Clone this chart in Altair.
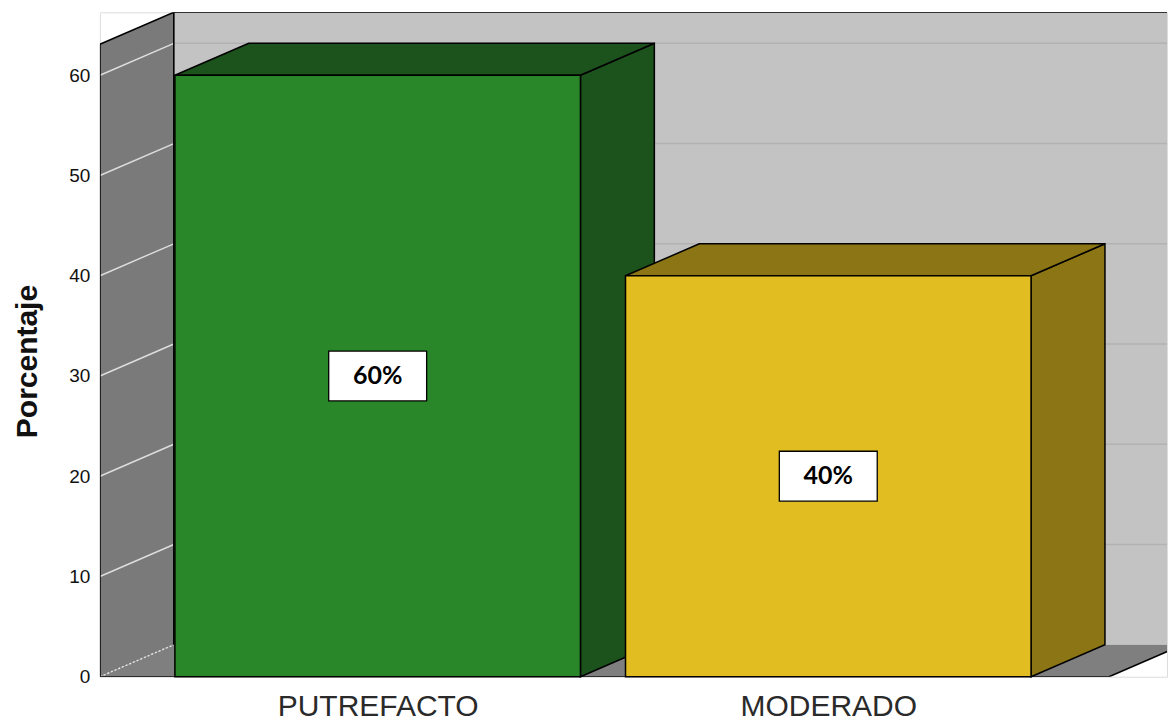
import json
import altair as alt
import pandas as pd

# ---------------- data ----------------
categories = ["PUTREFACTO", "MODERADO"]
percentages = [60, 40]
bar_labels = ["60%", "40%"]
y_ticks = [0, 10, 20, 30, 40, 50, 60]

# ---------------- styles ----------------
front_colors = ["#29872a", "#e1bd21"]
shade_colors = ["#1c521b", "#8c7514"]
BACK_WALL = "#c3c3c3"
SIDE_WALL = "#7a7a7a"
FLOOR = "#7f7f7f"

# 3D geometry (data units)
HALF = 0.45          # half bar width (category units)
DX = 0.164           # depth along x (category units)
DY = 3.19            # depth along y (percent units)
X_MIN, X_MAX = -0.6164, 1.7517
Y_MAX = 66.28
WALL_TOP = Y_MAX - DY
FLOOR_RIGHT = len(categories) - 1 + 0.623

xs = alt.Scale(domain=[X_MIN, X_MAX], nice=False, zero=False)
ys = alt.Scale(domain=[0, Y_MAX], nice=False, zero=False)

label_expr = json.dumps(categories) + "[datum.value]"
x_axis = alt.Axis(
    values=list(range(len(categories))), labelExpr=label_expr, ticks=False, domain=False,
    grid=False, title=None, labelFont="Liberation Sans Narrow, Arial Narrow, Liberation Sans",
    labelFontSize=30, labelColor="#2a2a2a", labelPadding=15, labelFlush=False,
    labelOverlap=False, labelLimit=0)
y_axis = alt.Axis(
    values=y_ticks, ticks=False, domain=False, grid=False, labelFont="Liberation Sans",
    labelFontSize=19, labelColor="#111111", labelPadding=10, title="Porcentaje",
    titleFont="Liberation Sans", titleFontSize=30, titleFontWeight="bold",
    titleColor="#111111", titlePadding=26, titleY=349)


def X(field="x"):
    return alt.X(f"{field}:Q", scale=xs, axis=x_axis)


def Y(field="y"):
    return alt.Y(f"{field}:Q", scale=ys, axis=y_axis)


back = alt.Chart(pd.DataFrame({"x": [X_MIN + DX], "x2": [X_MAX], "y": [DY], "y2": [Y_MAX]})).mark_rect(
    color=BACK_WALL).encode(x=X(), x2="x2:Q", y=Y(), y2="y2:Q")

floor = alt.Chart(pd.DataFrame({
    "y": [0, DY], "x": [X_MIN, X_MIN + DX], "x2": [FLOOR_RIGHT, FLOOR_RIGHT + DX]
})).mark_area(orient="horizontal", color=FLOOR, clip=True).encode(y=Y(), x=X(), x2="x2:Q")

left_wall = alt.Chart(pd.DataFrame({
    "x": [X_MIN, X_MIN + DX], "y": [0, DY], "y2": [WALL_TOP, Y_MAX]
})).mark_area(color=SIDE_WALL).encode(x=X(), y=Y(), y2="y2:Q")

grid_vals = y_ticks[1:]
back_grid = alt.Chart(pd.DataFrame({
    "x": [X_MIN + DX] * len(grid_vals), "x2": [X_MAX] * len(grid_vals),
    "y": [v + DY for v in grid_vals]
})).mark_rule(color="#b2b2b2", strokeWidth=1.6).encode(x=X(), x2="x2:Q", y=Y())

side_grid = alt.Chart(pd.DataFrame({
    "x": [X_MIN] * len(grid_vals), "x2": [X_MIN + DX] * len(grid_vals),
    "y": grid_vals, "y2": [v + DY for v in grid_vals]
})).mark_rule(color="#dedede", strokeWidth=1.4).encode(x=X(), x2="x2:Q", y=Y(), y2="y2:Q")

zero_grid = alt.Chart(pd.DataFrame({
    "x": [X_MIN], "x2": [X_MIN + DX], "y": [y_ticks[0]], "y2": [y_ticks[0] + DY]
})).mark_rule(color="#e6e6e6", strokeWidth=1.4, strokeDash=[2, 2]).encode(
    x=X(), x2="x2:Q", y=Y(), y2="y2:Q")

edges = alt.Chart(pd.DataFrame({
    "x":  [X_MIN, X_MIN, X_MIN + DX, X_MIN + DX, X_MIN, FLOOR_RIGHT],
    "y":  [0, WALL_TOP, DY, Y_MAX, 0, 0],
    "x2": [X_MIN, X_MIN + DX, X_MIN + DX, X_MAX, FLOOR_RIGHT, FLOOR_RIGHT + DX],
    "y2": [WALL_TOP, Y_MAX, Y_MAX, Y_MAX, 0, DY],
})).mark_rule(color="black", strokeWidth=1.6, clip=True).encode(
    x=X(), x2="x2:Q", y=Y(), y2="y2:Q")

layers = [back, floor, left_wall, back_grid, side_grid, zero_grid, edges]

for i, (cat, v) in enumerate(zip(categories, percentages)):
    c = i
    side = alt.Chart(pd.DataFrame({
        "x": [c + HALF, c + HALF + DX], "y": [0, DY], "y2": [v, v + DY]
    })).mark_area(color=shade_colors[i], stroke="black", strokeWidth=1.5).encode(
        x=X(), y=Y(), y2="y2:Q")
    top = alt.Chart(pd.DataFrame({
        "y": [v, v + DY], "x": [c - HALF, c - HALF + DX], "x2": [c + HALF, c + HALF + DX]
    })).mark_area(orient="horizontal", color=shade_colors[i], stroke="black",
                  strokeWidth=1.5).encode(y=Y(), x=X(), x2="x2:Q")
    front = alt.Chart(pd.DataFrame({
        "x": [c - HALF], "x2": [c + HALF], "y": [0], "y2": [v]
    })).mark_rect(color=front_colors[i], stroke="black", strokeWidth=1.5).encode(
        x=X(), x2="x2:Q", y=Y(), y2="y2:Q")
    layers += [side, top, front]

lab_df = pd.DataFrame({
    "x": list(range(len(categories))),
    "y": [v / 2 for v in percentages],
    "label": bar_labels,
})
boxes = alt.Chart(lab_df).mark_point(
    shape="M -1 -0.51 L 1 -0.51 L 1 0.51 L -1 0.51 Z", size=98 * 98, filled=True,
    fill="white", stroke="black", strokeWidth=1.3, opacity=1
).encode(x=X(), y=Y())
texts = alt.Chart(lab_df).mark_text(
    font="Lato", fontWeight="bold", fontSize=25, color="black", baseline="middle", align="center"
).encode(x=X(), y=Y(), text="label:N")
layers += [boxes, texts]

chart = alt.layer(*layers).properties(
    width=1068, height=665,
    padding={"left": 4, "top": 4, "right": 0, "bottom": 0},
).configure_view(stroke=None).configure(background="white")

chart.save("out.html", embed_options={"renderer": "svg", "actions": False})
